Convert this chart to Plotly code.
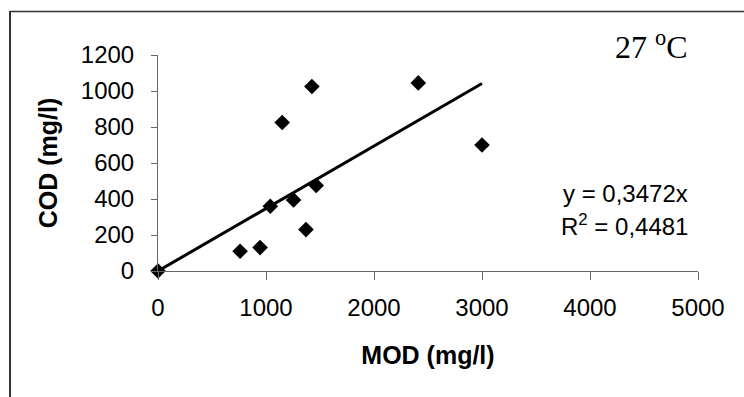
import plotly.graph_objects as go

# Data
mod_x = [0, 760, 945, 1040, 1150, 1255, 1370, 1425, 1465, 2410, 3000]
cod_y = [0, 110, 130, 360, 825, 395, 230, 1025, 475, 1045, 700]
slope = 0.3472
r2 = 0.4481
x_ticks = [0, 1000, 2000, 3000, 4000, 5000]
y_ticks = [0, 200, 400, 600, 800, 1000, 1200]

W, H = 744, 397
L, R, T, B = 158, 46, 55, 126
pw, ph = W - L - R, H - T - B

def px(xp):
    return (xp - L) / pw

def py(yp):
    return (H - B - yp) / ph

sans = "Liberation Sans, Arial, sans-serif"
serif = "Liberation Serif, Times New Roman, serif"

trend_x = [0, max(mod_x)]
trend_y = [slope * v for v in trend_x]

fig = go.Figure()
fig.add_trace(go.Scatter(x=trend_x, y=trend_y, mode="lines",
                         line=dict(color="black", width=3), showlegend=False,
                         hoverinfo="skip", cliponaxis=False))
fig.add_trace(go.Scatter(x=mod_x, y=cod_y, mode="markers",
                         marker=dict(symbol="diamond", size=12, color="black"),
                         showlegend=False, cliponaxis=False))

fig.update_layout(
    width=W, height=H,
    margin=dict(l=L, r=R, t=T, b=B),
    paper_bgcolor="white", plot_bgcolor="white",
    font=dict(family=sans, size=24, color="black"),
    xaxis=dict(range=[0, 5000], tickvals=x_ticks, ticktext=[str(v) for v in x_ticks],
               showgrid=False, zeroline=False, showline=True, linecolor="#666",
               linewidth=1, ticks="outside", ticklen=8, tickcolor="#666",
               ticklabelstandoff=7,
               tickfont=dict(size=24, family=sans),
               title=dict(text="<b>MOD (mg/l)</b>", font=dict(size=25, family=sans),
                          standoff=26)),
    yaxis=dict(range=[0, 1200], tickvals=y_ticks, ticktext=[str(v) for v in y_ticks],
               showgrid=False, zeroline=False, showline=True, linecolor="#666",
               linewidth=1, ticks="outside", ticklen=6, tickcolor="#666",
               ticklabelstandoff=12,
               tickfont=dict(size=24, family=sans),
               title=dict(text="<b>COD (mg/l)</b>", font=dict(size=25, family=sans),
                          standoff=16)),
    annotations=[
        dict(text="27 <sup>o</sup>C", x=px(651), y=py(45), xref="paper", yref="paper",
             xanchor="center", yanchor="middle", showarrow=False,
             font=dict(family=serif, size=32, color="black")),
        dict(text=f"y = {str(slope).replace('.', ',')}x", x=px(690), y=py(193),
             xref="paper", yref="paper", xanchor="right", yanchor="middle",
             showarrow=False, font=dict(family=sans, size=24, color="black")),
        dict(text=f"R<sup>2</sup> = {str(r2).replace('.', ',')}", x=px(690), y=py(225),
             xref="paper", yref="paper", xanchor="right", yanchor="middle",
             showarrow=False, font=dict(family=sans, size=24, color="black")),
    ],
    shapes=[
        dict(type="line", xref="paper", yref="paper", x0=px(10), x1=px(W + 5),
             y0=py(11.5), y1=py(11.5), line=dict(color="#333", width=1.5)),
        dict(type="line", xref="paper", yref="paper", x0=px(10), x1=px(10),
             y0=py(11), y1=py(H + 5), line=dict(color="#333", width=2)),
    ],
)

fig.write_html("out.html")
